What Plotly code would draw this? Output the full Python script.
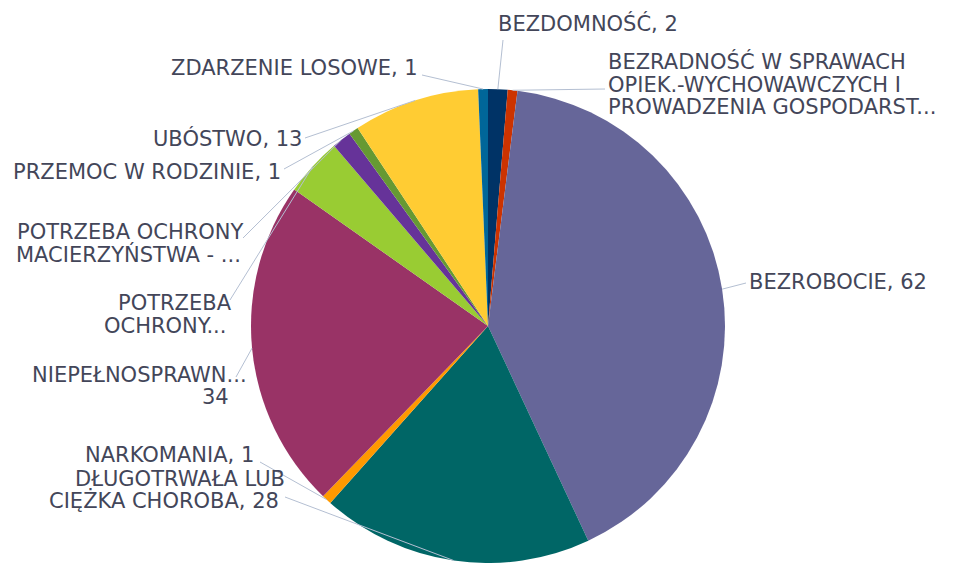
import math
import plotly.graph_objects as go

# ---- data ----
categories = [
    "BEZDOMNOŚĆ",
    "BEZRADNOŚĆ W SPRAWACH OPIEK.-WYCHOWAWCZYCH I PROWADZENIA GOSPODARSTWA DOMOWEGO",
    "BEZROBOCIE",
    "DŁUGOTRWAŁA LUB CIĘŻKA CHOROBA",
    "NARKOMANIA",
    "NIEPEŁNOSPRAWNOŚĆ",
    "POTRZEBA OCHRONY MACIERZYŃSTWA",
    "POTRZEBA OCHRONY MACIERZYŃSTWA - WIELODZIETNOŚĆ",
    "PRZEMOC W RODZINIE",
    "UBÓSTWO",
    "ZDARZENIE LOSOWE",
]
values = [2, 1, 62, 28, 1, 34, 6, 2, 1, 13, 1]
label_texts = [
    "BEZDOMNOŚĆ, 2",
    "BEZRADNOŚĆ W SPRAWACH<br>OPIEK.-WYCHOWAWCZYCH I<br>PROWADZENIA GOSPODARST...",
    "BEZROBOCIE, 62",
    "DŁUGOTRWAŁA LUB<br>CIĘŻKA CHOROBA, 28",
    "NARKOMANIA, 1",
    "NIEPEŁNOSPRAWN...<br>34",
    "POTRZEBA<br>OCHRONY...",
    "POTRZEBA OCHRONY<br>MACIERZYŃSTWA - ...",
    "PRZEMOC W RODZINIE, 1",
    "UBÓSTWO, 13",
    "ZDARZENIE LOSOWE, 1",
]

# ---- styles / layout ----
colors = ["#003366", "#cc3300", "#666699", "#006666", "#ff9900", "#993366",
          "#99cc33", "#663399", "#669933", "#ffcc33", "#006699"]
W, H = 954, 563
CX, CY, R = 488, 326, 237          # pie centre / radius in pixels
# per-label: anchor side and pixel position (x, y) of each text line
label_lines_pos = [
    ("left", [(497, 25)]),
    ("left", [(607, 63), (607, 87), (607, 109)]),
    ("left", [(748, 283)]),
    ("right", [(286, 480), (280, 502)]),
    ("right", [(255, 456)]),
    ("right", [(248, 376), (230, 398)]),
    ("right", [(233, 304), (227, 327)]),
    ("right", [(245, 234), (242, 256)]),
    ("right", [(282, 173)]),
    ("right", [(303, 140)]),
    ("right", [(419, 69)]),
]
leader_start = [
    (503, 40), (605, 89), (746, 283), (285, 497), (260, 462), (236, 377),
    (230, 300), (243, 238), (284, 169), (305, 138), (422, 75),
]
FONT = "DejaVu Sans"
FSIZE = 21
TXT = "#434659"
LINE = "#b4bfd2"
YADJ = -1.5   # caps centre vs. text box middle

fig = go.Figure(go.Pie(
    labels=categories, values=values, sort=False, direction="clockwise", rotation=0,
    marker=dict(colors=colors, line=dict(width=0)), textinfo="none", hoverinfo="label+value",
    domain=dict(x=[(CX - R) / W, (CX + R) / W], y=[max(0, (H - CY - R) / H), (H - CY + R) / H]),
))

total = sum(values)
cum = 0
shapes, annotations = [], []
for i, v in enumerate(values):
    mid = (cum + v / 2) / total * 2 * math.pi
    cum += v
    rx = CX + R * math.sin(mid)
    ry = CY - R * math.cos(mid)
    sx, sy = leader_start[i]
    shapes.append(dict(type="line", xref="paper", yref="paper",
                       x0=sx / W, y0=1 - sy / H, x1=rx / W, y1=1 - ry / H,
                       line=dict(color=LINE, width=1)))
    anc, poss = label_lines_pos[i]
    for line_text, (lx, ly) in zip(label_texts[i].split("<br>"), poss):
        annotations.append(dict(text=line_text, xref="paper", yref="paper",
                                x=lx / W, y=1 - (ly + YADJ) / H, xanchor=anc, yanchor="middle",
                                showarrow=False, borderpad=0,
                                font=dict(family=FONT, size=FSIZE, color=TXT)))

fig.update_layout(width=W, height=H, margin=dict(l=0, r=0, t=0, b=0),
                  paper_bgcolor="white", plot_bgcolor="white", showlegend=False,
                  shapes=shapes, annotations=annotations)
fig.write_html("out.html", config={"displayModeBar": False},
               post_script="document.body.style.margin='0';")
